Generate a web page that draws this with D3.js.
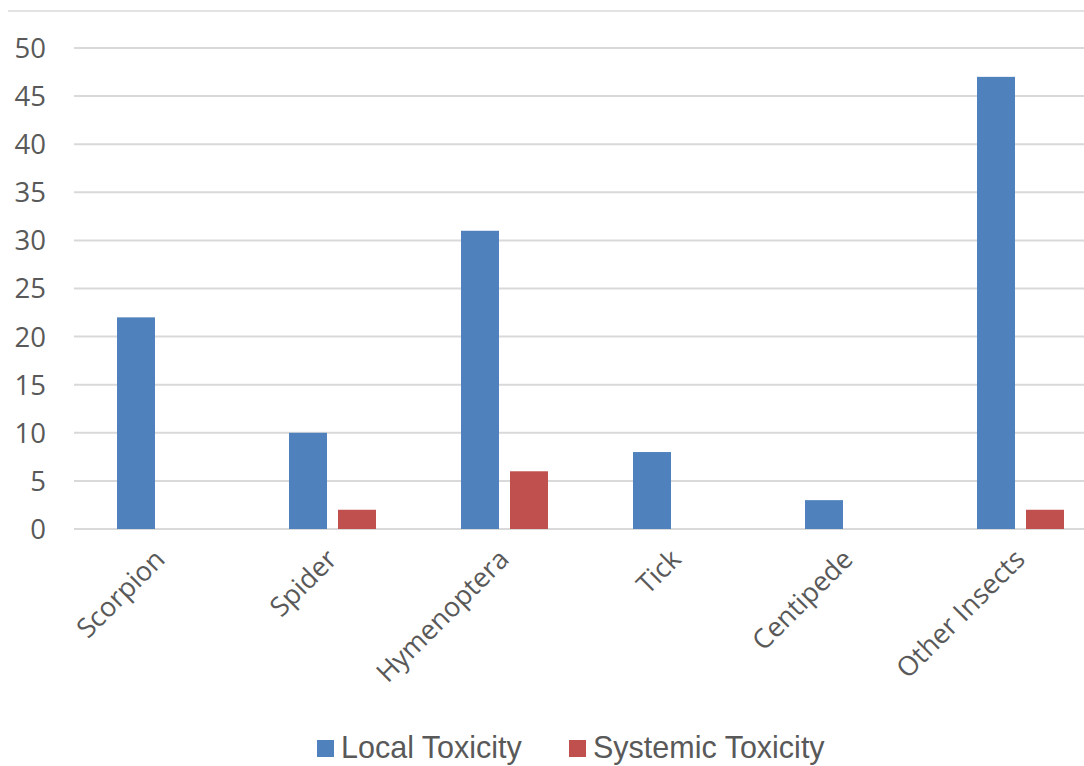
<!DOCTYPE html>
<html><head><meta charset="utf-8">
<script src="https://cdn.jsdelivr.net/npm/d3@7"></script>
<style>body{margin:0;background:#fff;}svg{display:block;}</style>
</head><body>
<script>
const categories = ["Scorpion","Spider","Hymenoptera","Tick","Centipede","Other Insects"];
const seriesNames = ["Local Toxicity","Systemic Toxicity"];
const localToxicity = [22,10,31,8,3,47];
const systemicToxicity = [0,2,6,0,0,2];
const yTicks = [0,5,10,15,20,25,30,35,40,45,50];
const colors = ["#4F81BD","#C0504D"];

const W=1084,H=766;
const svg=d3.select("body").append("svg").attr("width",W).attr("height",H);
const values=[localToxicity,systemicToxicity];

const x0=d3.scaleBand().domain(categories).range([74.5,1106.5]).padding(0);
const x1=d3.scaleBand().domain(seriesNames).range([42.5,129.5]).paddingInner(11/49).paddingOuter(0);
const y=d3.scaleLinear().domain([0,50]).range([529,48]);

// top border line
svg.append("line").attr("x1",8).attr("x2",W).attr("y1",11).attr("y2",11)
  .attr("stroke","#D9D9D9").attr("stroke-width",1.5);

// gridlines
svg.append("g").selectAll("line").data(yTicks).join("line")
  .attr("x1",74).attr("x2",W).attr("y1",d=>y(d)).attr("y2",d=>y(d))
  .attr("stroke","#D9D9D9").attr("stroke-width",2);

// y labels
svg.append("g").selectAll("text").data(yTicks).join("text")
  .attr("x",46).attr("y",d=>y(d)).attr("dy","0.36em").attr("text-anchor","end")
  .attr("font-family","Open Sans").attr("font-size",27.5).attr("fill","#595959")
  .text(d=>d);

// bars
seriesNames.forEach((s,si)=>{
  svg.append("g").selectAll("rect").data(categories).join("rect")
    .attr("x",(c)=>x0(c)+x1(s)).attr("width",x1.bandwidth())
    .attr("y",(c,i)=>y(values[si][i])).attr("height",(c,i)=>y(0)-y(values[si][i]))
    .attr("fill",colors[si]);
});

// category labels
svg.append("g").selectAll("text").data(categories).join("text")
  .attr("text-anchor","end")
  .attr("transform",c=>`translate(${x0(c)+x0.bandwidth()/2+6},${561}) rotate(-45)`)
  .attr("font-family","Open Sans").attr("font-size",27).attr("fill","#595959")
  .text(c=>c);

// legend
const lg=svg.append("g");
const legendX=[317,569];
seriesNames.forEach((s,i)=>{
  lg.append("rect").attr("x",legendX[i]).attr("y",740).attr("width",17).attr("height",17).attr("fill",colors[i]);
  lg.append("text").attr("x",legendX[i]+24).attr("y",758)
    .attr("font-family","Liberation Sans").attr("font-size",30.5).attr("fill","#595959").text(s);
});
</script>
</body></html>
